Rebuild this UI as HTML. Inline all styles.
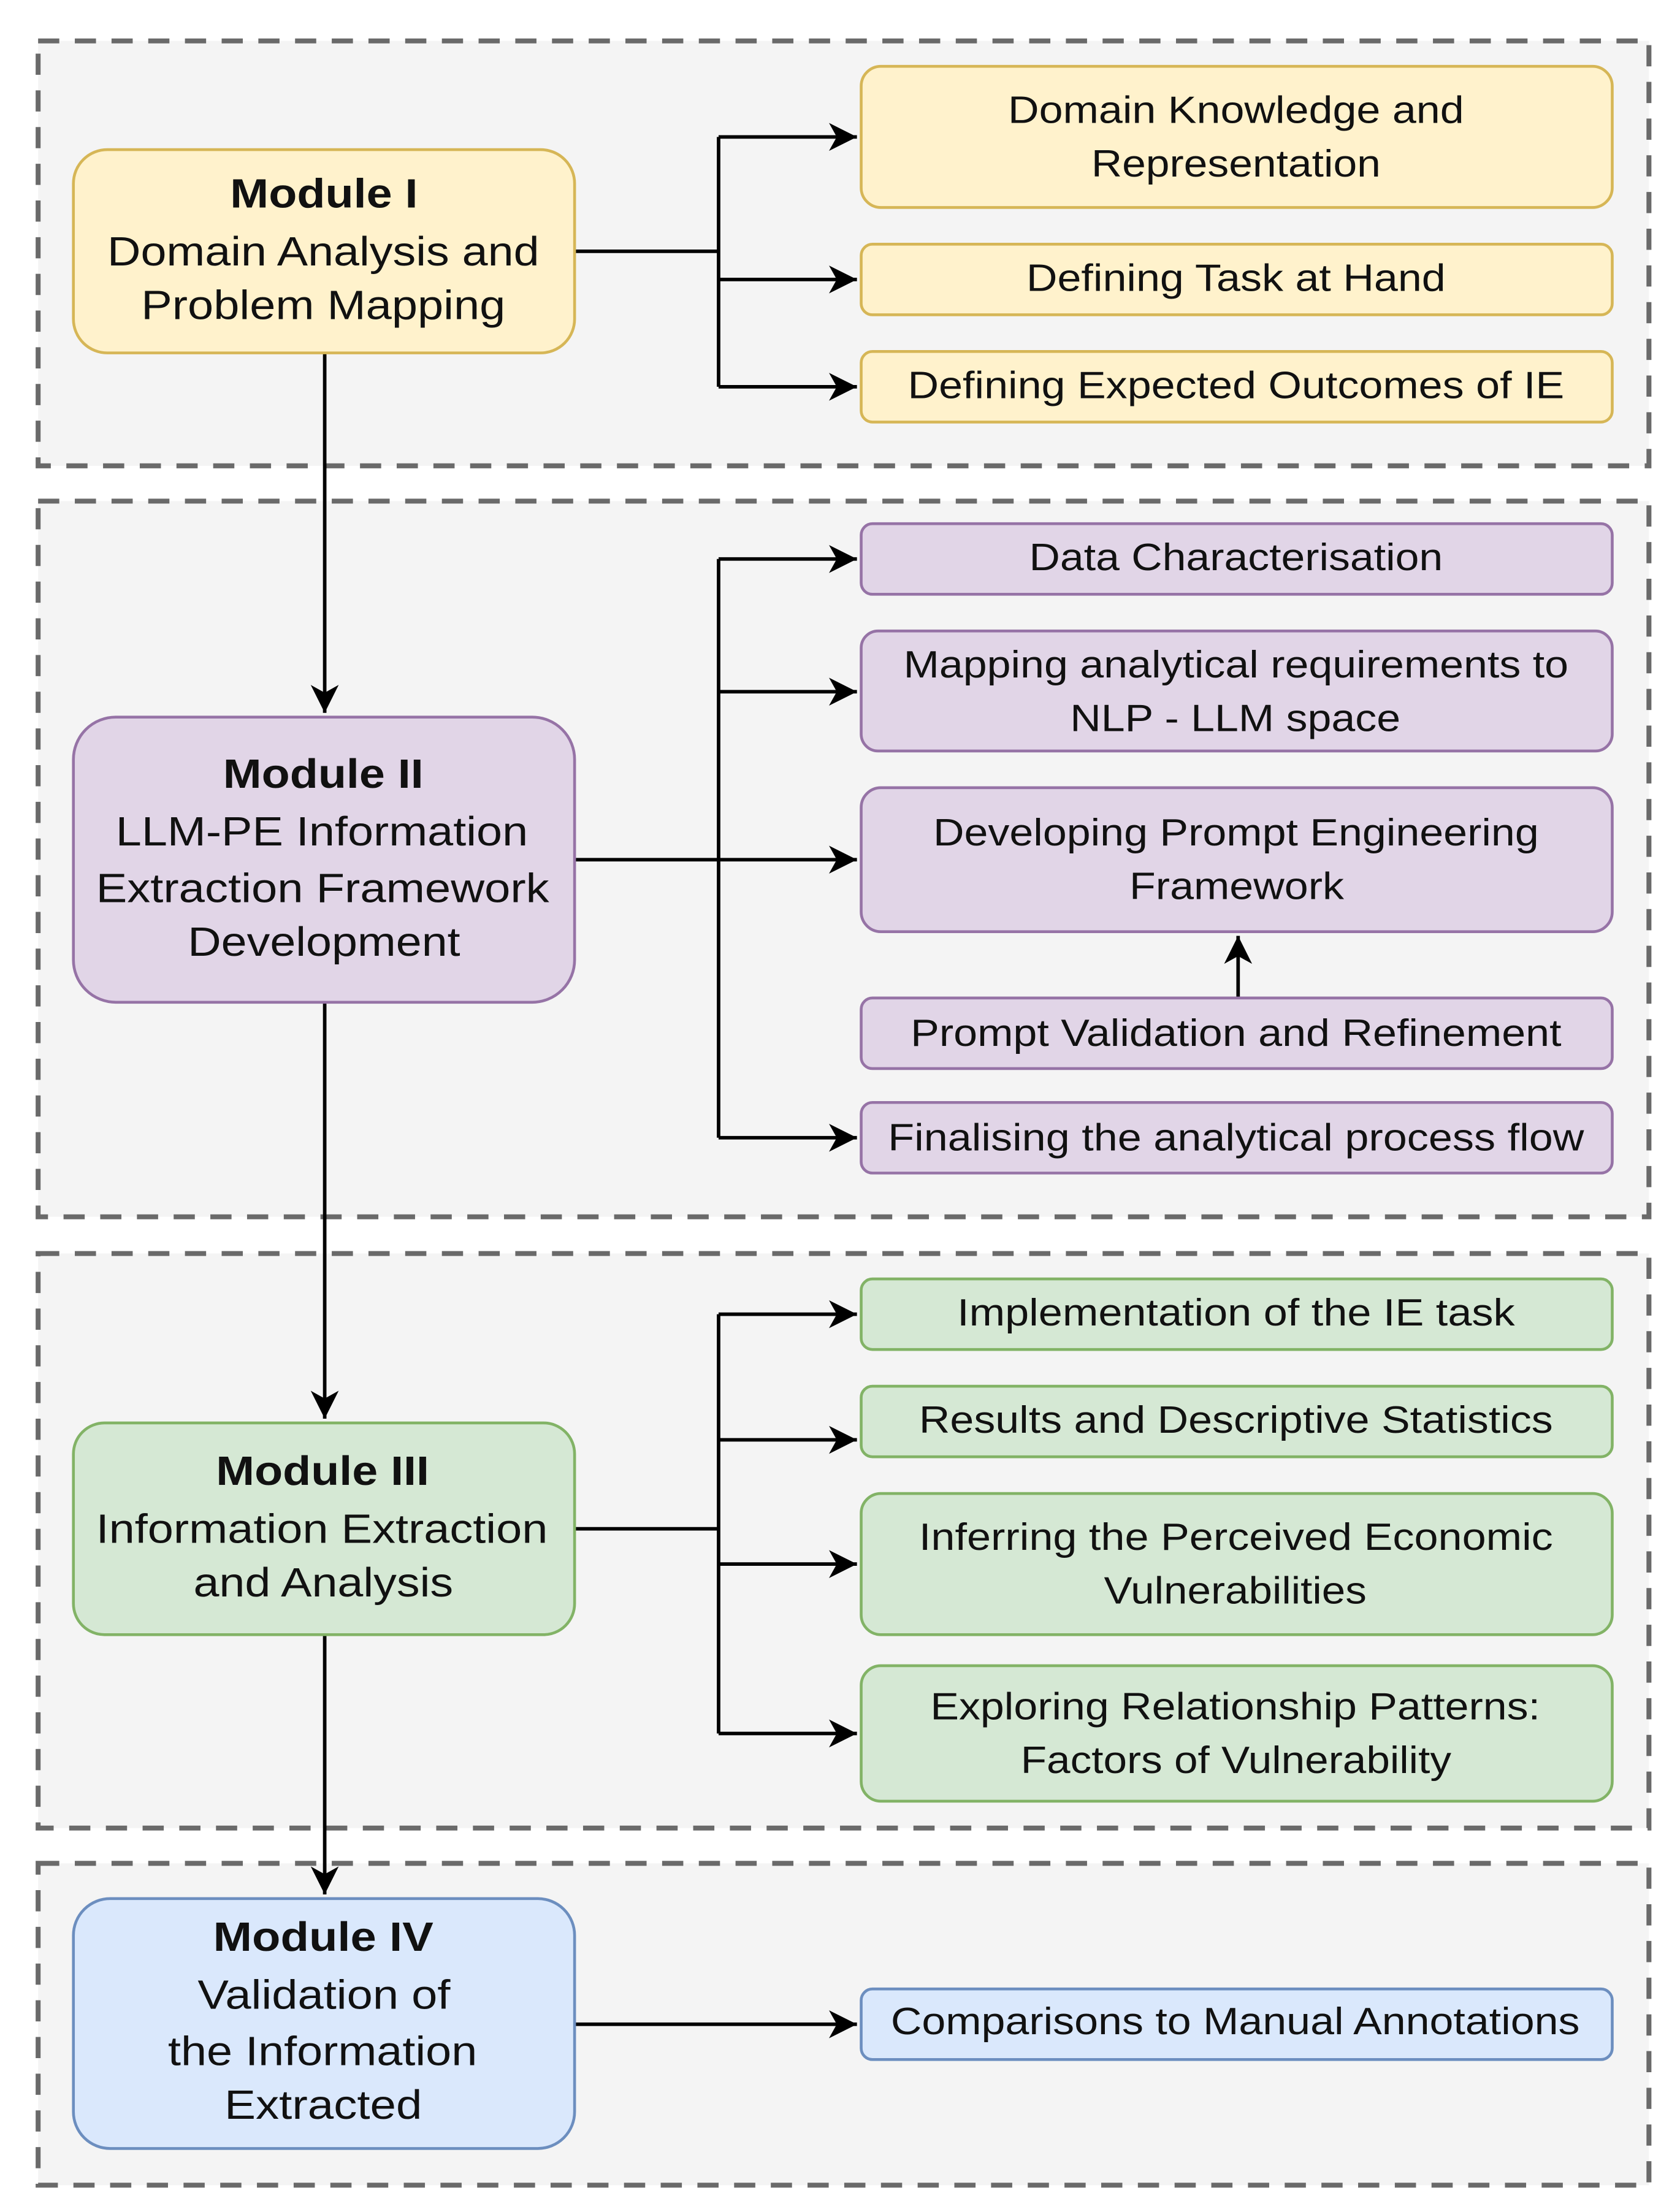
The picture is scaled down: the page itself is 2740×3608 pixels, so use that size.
<!DOCTYPE html>
<html><head><meta charset="utf-8"><style>html,body{margin:0;padding:0;background:#fff}svg{display:block}</style></head>
<body>
<svg xmlns="http://www.w3.org/2000/svg" width="2740" height="3608" viewBox="0 0 1190 1567" preserveAspectRatio="none" font-family="'Liberation Sans Narrow','Liberation Sans',sans-serif" text-anchor="middle">
<defs>
<marker id="b" viewBox="0 0 20 20" markerWidth="22" markerHeight="22" refX="18" refY="10" orient="auto" markerUnits="userSpaceOnUse"><path d="M0,1 L18,10 L0,19 L5,10 Z" fill="#000"/></marker>
</defs>
<g fill="#f4f4f4" stroke="#6a6a6a" stroke-width="3.5" stroke-dasharray="15 11">
<rect x="27" y="29" width="1141" height="301"/>
<rect x="27" y="355" width="1141" height="507"/>
<rect x="27" y="888" width="1141" height="407"/>
<rect x="27" y="1320" width="1141" height="228"/>
</g>
<g stroke="#000" stroke-width="2.5" fill="none">
<path d="M230 250 V505" marker-end="url(#b)"/>
<path d="M230 710 V1005" marker-end="url(#b)"/>
<path d="M230 1158 V1342" marker-end="url(#b)"/>
<path d="M407 178 H509 M509 97 V274"/>
<path d="M509 97 H607" marker-end="url(#b)"/>
<path d="M509 198 H607" marker-end="url(#b)"/>
<path d="M509 274 H607" marker-end="url(#b)"/>
<path d="M407 609 H509 M509 396 V806"/>
<path d="M509 396 H607" marker-end="url(#b)"/>
<path d="M509 490 H607" marker-end="url(#b)"/>
<path d="M509 609 H607" marker-end="url(#b)"/>
<path d="M509 806 H607" marker-end="url(#b)"/>
<path d="M877 707 V663" marker-end="url(#b)"/>
<path d="M407 1083 H509 M509 931 V1228"/>
<path d="M509 931 H607" marker-end="url(#b)"/>
<path d="M509 1020 H607" marker-end="url(#b)"/>
<path d="M509 1108 H607" marker-end="url(#b)"/>
<path d="M509 1228 H607" marker-end="url(#b)"/>
<path d="M407 1434 H607" marker-end="url(#b)"/>
</g>
<g stroke-width="2">
<rect x="52" y="106" width="355" height="144" rx="24" fill="#fff2cc" stroke="#d6b656"/>
<rect x="610" y="47" width="532" height="100" rx="14" fill="#fff2cc" stroke="#d6b656"/>
<rect x="610" y="173" width="532" height="50" rx="8" fill="#fff2cc" stroke="#d6b656"/>
<rect x="610" y="249" width="532" height="50" rx="8" fill="#fff2cc" stroke="#d6b656"/>
<rect x="52" y="508" width="355" height="202" rx="30" fill="#e1d5e7" stroke="#9673a6"/>
<rect x="610" y="371" width="532" height="50" rx="8" fill="#e1d5e7" stroke="#9673a6"/>
<rect x="610" y="447" width="532" height="85" rx="12" fill="#e1d5e7" stroke="#9673a6"/>
<rect x="610" y="558" width="532" height="102" rx="14" fill="#e1d5e7" stroke="#9673a6"/>
<rect x="610" y="707" width="532" height="50" rx="8" fill="#e1d5e7" stroke="#9673a6"/>
<rect x="610" y="781" width="532" height="50" rx="8" fill="#e1d5e7" stroke="#9673a6"/>
<rect x="52" y="1008" width="355" height="150" rx="22" fill="#d5e8d4" stroke="#82b366"/>
<rect x="610" y="906" width="532" height="50" rx="8" fill="#d5e8d4" stroke="#82b366"/>
<rect x="610" y="982" width="532" height="50" rx="8" fill="#d5e8d4" stroke="#82b366"/>
<rect x="610" y="1058" width="532" height="100" rx="14" fill="#d5e8d4" stroke="#82b366"/>
<rect x="610" y="1180" width="532" height="96" rx="14" fill="#d5e8d4" stroke="#82b366"/>
<rect x="52" y="1345" width="355" height="177" rx="26" fill="#dae8fc" stroke="#6c8ebf"/>
<rect x="610" y="1409" width="532" height="50" rx="8" fill="#dae8fc" stroke="#6c8ebf"/>
</g>
<g font-size="29" fill="#111">
<text x="229.5" y="147" font-weight="bold" textLength="133" lengthAdjust="spacingAndGlyphs">Module I</text>
<text x="229" y="188" textLength="306" lengthAdjust="spacingAndGlyphs">Domain Analysis and</text>
<text x="229" y="226" textLength="258" lengthAdjust="spacingAndGlyphs">Problem Mapping</text>
<text x="229" y="558" font-weight="bold" textLength="142" lengthAdjust="spacingAndGlyphs">Module II</text>
<text x="228" y="599" textLength="292" lengthAdjust="spacingAndGlyphs">LLM-PE Information</text>
<text x="228.5" y="639" textLength="321" lengthAdjust="spacingAndGlyphs">Extraction Framework</text>
<text x="229.5" y="677" textLength="193" lengthAdjust="spacingAndGlyphs">Development</text>
<text x="228.5" y="1052" font-weight="bold" textLength="151" lengthAdjust="spacingAndGlyphs">Module III</text>
<text x="228" y="1093" textLength="320" lengthAdjust="spacingAndGlyphs">Information Extraction</text>
<text x="229" y="1131" textLength="184" lengthAdjust="spacingAndGlyphs">and Analysis</text>
<text x="229" y="1382" font-weight="bold" textLength="156" lengthAdjust="spacingAndGlyphs">Module IV</text>
<text x="229.5" y="1423" textLength="179" lengthAdjust="spacingAndGlyphs">Validation of</text>
<text x="228.5" y="1463" textLength="219" lengthAdjust="spacingAndGlyphs">the Information</text>
<text x="229" y="1501" textLength="140" lengthAdjust="spacingAndGlyphs">Extracted</text>
</g>
<g font-size="27" fill="#111">
<text x="875.5" y="87" textLength="323" lengthAdjust="spacingAndGlyphs">Domain Knowledge and</text>
<text x="875.5" y="125" textLength="205" lengthAdjust="spacingAndGlyphs">Representation</text>
<text x="875.5" y="206" textLength="297" lengthAdjust="spacingAndGlyphs">Defining Task at Hand</text>
<text x="875.5" y="282" textLength="465" lengthAdjust="spacingAndGlyphs">Defining Expected Outcomes of IE</text>
<text x="875.5" y="404" textLength="293" lengthAdjust="spacingAndGlyphs">Data Characterisation</text>
<text x="875.5" y="480" textLength="471" lengthAdjust="spacingAndGlyphs">Mapping analytical requirements to</text>
<text x="875" y="518" textLength="234" lengthAdjust="spacingAndGlyphs">NLP - LLM space</text>
<text x="875.5" y="599" textLength="429" lengthAdjust="spacingAndGlyphs">Developing Prompt Engineering</text>
<text x="876" y="637" textLength="152" lengthAdjust="spacingAndGlyphs">Framework</text>
<text x="875.5" y="741" textLength="461" lengthAdjust="spacingAndGlyphs">Prompt Validation and Refinement</text>
<text x="875.5" y="815" textLength="493" lengthAdjust="spacingAndGlyphs">Finalising the analytical process flow</text>
<text x="875.5" y="939" textLength="395" lengthAdjust="spacingAndGlyphs">Implementation of the IE task</text>
<text x="875.5" y="1015" textLength="449" lengthAdjust="spacingAndGlyphs">Results and Descriptive Statistics</text>
<text x="875.5" y="1098" textLength="449" lengthAdjust="spacingAndGlyphs">Inferring the Perceived Economic</text>
<text x="875" y="1136" textLength="186" lengthAdjust="spacingAndGlyphs">Vulnerabilities</text>
<text x="875" y="1218" textLength="432" lengthAdjust="spacingAndGlyphs">Exploring Relationship Patterns:</text>
<text x="875.5" y="1256" textLength="305" lengthAdjust="spacingAndGlyphs">Factors of Vulnerability</text>
<text x="875" y="1441" textLength="488" lengthAdjust="spacingAndGlyphs">Comparisons to Manual Annotations</text>
</g>
</svg>
</body></html>
